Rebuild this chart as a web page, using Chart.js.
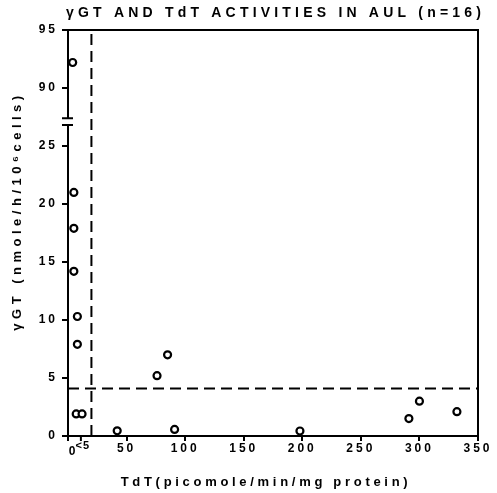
<!DOCTYPE html>
<html>
<head>
<meta charset="utf-8">
<script src="https://cdn.jsdelivr.net/npm/chart.js@4"></script>
<style>
html, body { margin: 0; background: #fff; }
#wrap { width: 497px; height: 493px; }
</style>
</head>
<body>
<div id="wrap"><canvas id="chart"></canvas></div>
<script>
// values
const tdt = [4, 5, 5, 5, 8, 8, 7, 12, 42, 76, 85, 91, 198, 291, 300, 332];
const ggt = [92.2, 21, 17.9, 14.2, 10.3, 7.9, 1.9, 1.9, 0.45, 5.2, 7.0, 0.57, 0.43, 1.5, 3.0, 2.1];
const xTicks = [0, 50, 100, 150, 200, 250, 300, 350];
const yTicksLow = [0, 5, 10, 15, 20, 25];
const yTicksHigh = [90, 95];
const cutTdT = 20;   // vertical dashed cut-off
const cutGGT = 4.1;  // horizontal dashed cut-off
const BREAK = 60;    // the y axis skips from ~27 to ~87

const toAxis = v => v > 50 ? v - BREAK : v;
const fromAxis = v => v > 27 ? v + BREAK : v;

const points = tdt.map((x, i) => ({x, y: toAxis(ggt[i])}));
const FONT = "'Liberation Sans', Arial, sans-serif";

const spacing = {
  id: 'spacing',
  beforeLayout(c) { c.ctx.letterSpacing = '3px'; },
  beforeDraw(c) { c.ctx.letterSpacing = '3px'; }
};

function text(ctx, s, x, y, size, sp, align) {
  ctx.letterSpacing = sp + 'px';
  ctx.font = 'bold ' + size + 'px ' + FONT;
  ctx.textAlign = align || 'center';
  ctx.textBaseline = 'middle';
  ctx.fillText(s, x, y);
}

const extras = {
  id: 'extras',
  afterDraw(c) {
    const ctx = c.ctx, a = c.chartArea, x = c.scales.x, y = c.scales.y;
    ctx.save();
    ctx.strokeStyle = '#000';
    ctx.fillStyle = '#000';
    ctx.lineWidth = 2;
    // top and right frame
    ctx.beginPath();
    ctx.moveTo(a.left, a.top); ctx.lineTo(a.right, a.top); ctx.lineTo(a.right, a.bottom);
    ctx.stroke();
    // axis break
    const b1 = y.getPixelForValue(27.4), b2 = y.getPixelForValue(26.8);
    ctx.fillStyle = '#fff';
    ctx.fillRect(a.left - 3, b1, 6, b2 - b1);
    ctx.beginPath();
    ctx.moveTo(a.left - 6, b1); ctx.lineTo(a.left + 5, b1);
    ctx.moveTo(a.left - 6, b2); ctx.lineTo(a.left + 5, b2);
    ctx.stroke();
    ctx.fillStyle = '#000';
    // "0" and "<5" under the origin
    const px = x.getPixelForValue(11);
    ctx.beginPath();
    ctx.moveTo(px, a.bottom); ctx.lineTo(px, a.bottom + 5);
    ctx.stroke();
    text(ctx, '0', x.getPixelForValue(0) + 4, a.bottom + 16, 12, 0);
    text(ctx, '<5', px + 2, a.bottom + 10, 11, 1);
    // titles
    text(ctx, 'γGT AND TdT ACTIVITIES IN AUL (n=16)', 66, 13, 14, 4.2, 'left');
    text(ctx, 'TdT(picomole/min/mg protein)', 266, 482, 13, 3.7);
    ctx.translate(17, 211);
    ctx.rotate(-Math.PI / 2);
    text(ctx, 'γGT (nmole/h/10⁶cells)', 0, 0, 13, 4.5);
    ctx.restore();
  }
};

new Chart(document.getElementById('chart'), {
  type: 'scatter',
  data: {
    datasets: [
      {
        data: points,
        pointRadius: 3.5,
        pointBorderWidth: 2.2,
        pointBorderColor: '#000',
        pointBackgroundColor: '#fff',
        pointHoverRadius: 3.5
      },
      {
        type: 'line',
        data: [{x: cutTdT, y: 0}, {x: cutTdT, y: 35}],
        borderColor: '#000', borderWidth: 2, borderDash: [11, 6],
        pointRadius: 0
      },
      {
        type: 'line',
        data: [{x: 0, y: cutGGT}, {x: 350, y: cutGGT}],
        borderColor: '#000', borderWidth: 2, borderDash: [11, 6],
        pointRadius: 0
      }
    ]
  },
  options: {
    animation: false,
    responsive: true,
    maintainAspectRatio: false,
    layout: { padding: { left: 0, right: 19, top: 30, bottom: 0 } },
    plugins: {
      legend: { display: false },
      tooltip: { enabled: false },
      title: { display: false }
    },
    scales: {
      x: {
        type: 'linear',
        min: 0, max: 350,
        afterBuildTicks: s => { s.ticks = xTicks.map(v => ({value: v})); },
        afterFit: s => { s.height = 57; },
        grid: { display: true, drawOnChartArea: false, tickLength: 5, color: '#000', lineWidth: 2 },
        border: { color: '#000', width: 2 },
        ticks: {
          color: '#000', padding: 0,
          font: { family: FONT, size: 12, weight: 'bold' },
          callback: v => v === 0 ? '' : String(v)
        }
      },
      y: {
        type: 'linear',
        min: 0, max: 35,
        afterBuildTicks: s => {
          s.ticks = yTicksLow.concat(yTicksHigh.map(toAxis)).map(v => ({value: v}));
        },
        afterFit: s => { s.width = 68; },
        grid: { display: true, drawOnChartArea: false, tickLength: 6, color: '#000', lineWidth: 2 },
        border: { color: '#000', width: 2 },
        ticks: {
          color: '#000', padding: 4,
          font: { family: FONT, size: 12, weight: 'bold' },
          callback: v => String(fromAxis(v))
        }
      }
    }
  },
  plugins: [spacing, extras]
});
</script>
</body>
</html>
